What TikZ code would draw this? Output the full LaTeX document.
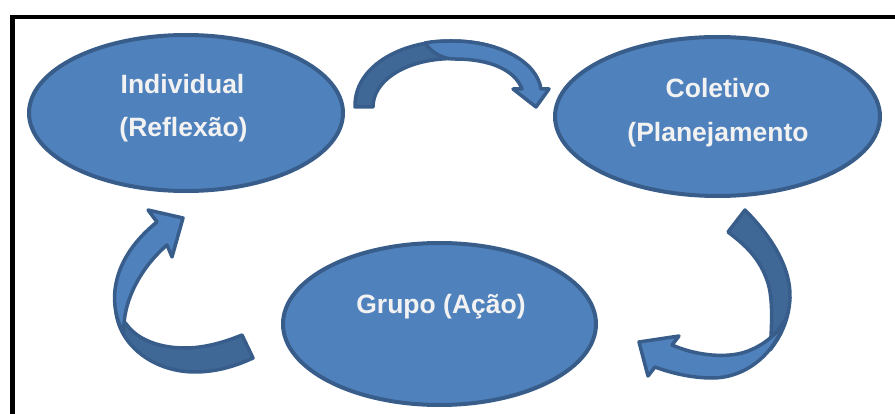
\documentclass[tikz,border=0pt]{standalone}
\usepackage{fontspec}
\setmainfont{Liberation Sans}
\usetikzlibrary{shapes.geometric}
\definecolor{cyclefill}{HTML}{4F81BD}
\definecolor{cycleedge}{HTML}{385D8A}
\definecolor{cycleback}{HTML}{3F6896}
\definecolor{labeltext}{HTML}{F2F2F2}
\begin{document}
\begin{tikzpicture}[x=1pt,y=-1pt,
  stage/.style={ellipse, draw=cycleedge, fill=cyclefill, line width=4pt, inner sep=0pt},
  stagelabel/.style={text=labeltext, font=\fontsize{26.5}{43}\selectfont\bfseries, inner sep=0pt, anchor=base},
  backface/.style={fill=cycleback, draw=cycleedge, line width=3.5pt, line join=round},
  frontface/.style={fill=cyclefill, draw=cycleedge, line width=3.5pt, line join=round},
  frameline/.style={draw=black, line width=4.5pt, line join=miter}]
\useasboundingbox (0,0) rectangle (895,414);
\clip (0,0) rectangle (895,414);

% open frame: left and top rules only
\draw[frameline] (12.5,430) -- (12.5,17) -- (910,17);

% the three stages
\node[stage, minimum width=314pt, minimum height=156pt] (indiv) at (186,113) {};
\node[stage, minimum width=325pt, minimum height=159pt] (colet) at (717.5,116.5) {};
\node[stage, minimum width=313pt, minimum height=162pt] (grupo) at (439.5,324) {};

\node[stagelabel] (indiv1) at (182.5,94) {Individual};
\node[stagelabel] (indiv2) at (183.5,137) {(Reflexão)};
\node[stagelabel] (colet1) at (718,98) {Coletivo};
\node[stagelabel] (colet2) at (718,142) {(Planejamento};
\node[stagelabel] (grupo1) at (441,313) {Grupo (Ação)};

% curved arrow: Individual -> Coletivo
\path[backface] (355,107) .. controls (354,68) and (398,41) .. (452,41)
  .. controls (475,41) and (495,46) .. (505,52)
  .. controls (482,56) and (458,58) .. (442,59)
  .. controls (402,62) and (373,82) .. (373,107) -- cycle;
\path[frontface] (425,43) .. controls (435,41) and (445,41) .. (452,41)
  .. controls (500,41) and (537,62) .. (541,89)
  -- (549,89) -- (536,107) -- (513,89) -- (522,89)
  .. controls (515,70) and (490,59) .. (455,59)
  .. controls (442,59) and (432,53) .. (425,43) -- cycle;

% curved arrow: Coletivo -> Grupo
\path[backface] (745,210) .. controls (772,237) and (791,268) .. (790,298)
  .. controls (789,318) and (782,335) .. (770,350)
  .. controls (772,325) and (773,300) .. (768,283)
  .. controls (760,258) and (745,245) .. (728,232) -- cycle;
\path[frontface] (786,318) .. controls (775,355) and (745,378) .. (712,378)
  .. controls (690,378) and (668,372) .. (655,367)
  -- (648,376) -- (639,342) -- (679,336) -- (672,345)
  .. controls (695,355) and (722,358) .. (742,353)
  .. controls (760,348) and (778,335) .. (786,318) -- cycle;

% curved arrow: Grupo -> Individual
\path[backface] (116,300) .. controls (112,340) and (150,372) .. (195,372)
  .. controls (218,372) and (238,365) .. (253,358)
  -- (242,335)
  .. controls (225,342) and (205,348) .. (185,348)
  .. controls (160,348) and (138,340) .. (127,325)
  .. controls (120,318) and (117,310) .. (116,300) -- cycle;
\path[frontface] (124,334) .. controls (106,302) and (112,258) .. (157,222)
  -- (148,210) -- (183,218) -- (172,257) -- (167,245)
  .. controls (138,270) and (122,305) .. (124,334) -- cycle;
\end{tikzpicture}
\end{document}
